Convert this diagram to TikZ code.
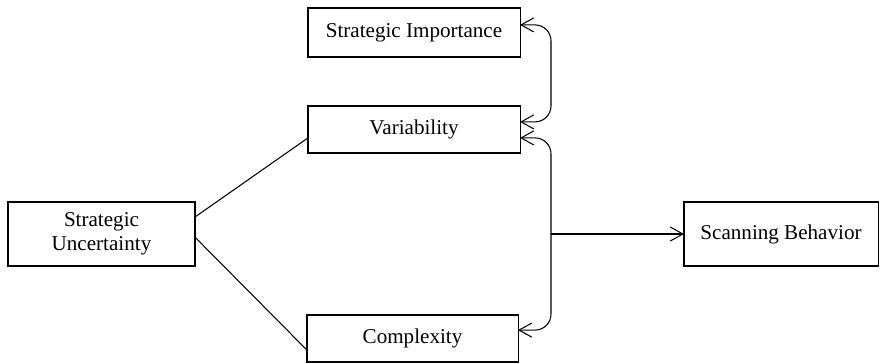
\documentclass[tikz,border=0pt]{standalone}
\usepackage{fontspec}
\setmainfont{Liberation Serif}
\usetikzlibrary{arrows.meta}

\begin{document}
\begin{tikzpicture}[x=0.025cm, y=-0.025cm, line width=0.75pt,
  every node/.style={draw, align=center, outer sep=0pt, inner sep=2pt, font=\fontsize{15}{17}\selectfont},
  barb/.style={-{Straight Barb[length=9pt,width=10pt]}},
  barbs/.style={{Straight Barb[length=9pt,width=10pt]}-{Straight Barb[length=9pt,width=10pt]}, rounded corners=0.4cm}]
\useasboundingbox (0,0) rectangle (880,363);

\node[minimum width=5.3cm, minimum height=1.225cm] (imp) at (414,32.5) {Strategic Importance};
\node[minimum width=5.3cm, minimum height=1.175cm] (var) at (414,129.5) {Variability};
\node[minimum width=5.275cm, minimum height=1.175cm] (cpx) at (412.5,338.5) {Complexity};
\node[minimum width=4.675cm, minimum height=1.6cm] (unc) at (101.5,234) {Strategic\\Uncertainty};
\node[minimum width=4.85cm, minimum height=1.6cm] (scan) at (781,234) {Scanning Behavior};

\coordinate (upper) at (551,75);
\coordinate (join) at (551,234);

\draw ([yshift=0.425cm]unc.east) -- ([yshift=-0.21cm]var.west);
\draw ([yshift=-0.08cm]unc.east) -- ([yshift=-0.29cm]cpx.west);
\draw[barbs] ([yshift=0.19cm]imp.east) -| (upper) |- ([yshift=0.19cm]var.east);
\draw[barbs] ([yshift=-0.21cm]var.east) -| (join) |- ([yshift=0.21cm]cpx.east);
\draw[barb] (join) -- (scan.west);
\end{tikzpicture}
\end{document}
